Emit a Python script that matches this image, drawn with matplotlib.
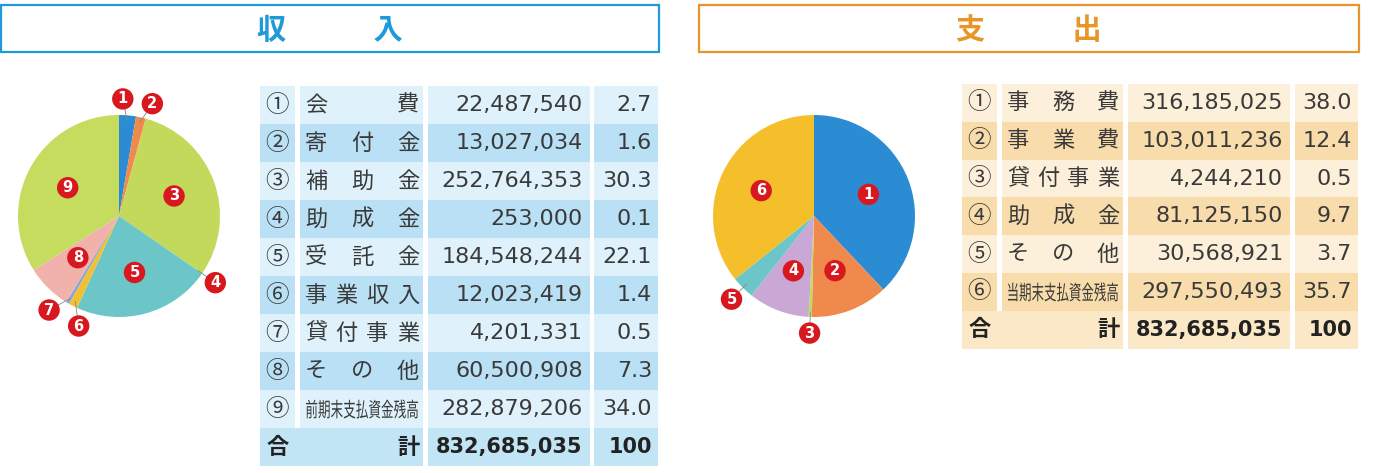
import numpy as np
import matplotlib
matplotlib.use('Agg')
import matplotlib.pyplot as plt
from matplotlib.patches import Rectangle, PathPatch
from matplotlib.textpath import TextPath
from matplotlib.font_manager import FontProperties
from matplotlib.transforms import Affine2D

plt.rcParams['font.family'] = ['Noto Sans CJK JP', 'DejaVu Sans']

# ---- data ----
in_labels = ['会費', '寄付金', '補助金', '助成金', '受託金', '事業収入', '貸付事業', 'その他', '前期末支払資金残高']
in_values = [22487540, 13027034, 252764353, 253000, 184548244, 12023419, 4201331, 60500908, 282879206]
in_pcts = [2.7, 1.6, 30.3, 0.1, 22.1, 1.4, 0.5, 7.3, 34.0]
in_total = 832685035

out_labels = ['事務費', '事業費', '貸付事業', '助成金', 'その他', '当期末支払資金残高']
out_values = [316185025, 103011236, 4244210, 81125150, 30568921, 297550493]
out_pcts = [38.0, 12.4, 0.5, 9.7, 3.7, 35.7]
out_total = 832685035

in_colors = ['#2b8bd3', '#ef8a4c', '#c3d95b', '#8dc7a0', '#6cc5c6', '#f2c032', '#7fa7e0', '#f1b2ab', '#c6dc5f']
out_colors = ['#2b8bd3', '#ef8a4c', '#c3d95b', '#c9a8d6', '#6cc5c6', '#f5bf2c']

circled = '①②③④⑤⑥⑦⑧⑨'
W, H = 1383, 473
TXT = '#3a3a3a'
NUM_FONT = 'DejaVu Sans'

fig = plt.figure(figsize=(W / 100, H / 100), dpi=100)
ax = fig.add_axes([0, 0, 1, 1])
ax.set_xlim(0, W)
ax.set_ylim(H, 0)
ax.axis('off')


# title boxes
def title_box(x0, x1, y0, y1, text, color):
    ax.add_patch(Rectangle((x0, y0), x1 - x0, y1 - y0, fill=False, ec=color, lw=1.6))
    ax.text((x0 + x1) / 2, (y0 + y1) / 2 + 1, text, color=color, fontsize=21,
            fontweight='bold', ha='center', va='center')

title_box(1, 659, 5, 52, '収　　　入', '#1e9ad8')
title_box(699, 1359, 5, 52, '支　　　出', '#e8962a')


# 長いラベルは横に詰めて描く
def squeezed_text(text, xl, xr, yc, height):
    tp = TextPath((0, 0), text, size=20, prop=FontProperties(family='Noto Sans CJK JP'))
    bb = tp.get_extents()
    sx = (xr - xl) / bb.width
    sy = height / bb.height
    tr = Affine2D().translate(-bb.x0, -bb.y0).scale(sx, -sy).translate(xl, yc + height / 2)
    ax.add_patch(PathPatch(tr.transform_path(tp), fc=TXT, ec='none', lw=0))


def spread_label(text, xl, xr, y, fs):
    if len(text) > 4:
        squeezed_text(text, xl - 10, xr + 10, y, 19)
        return
    xs = np.linspace(xl, xr, len(text))
    for ch, x in zip(text, xs):
        ax.text(x, y, ch, fontsize=fs, ha='center', va='center', color=TXT)


def draw_table(cols, top, rh, labels, values, pcts, total, c_odd, c_even, c_tot):
    n = len(labels)
    for i in range(n + 1):
        y0 = top + i * rh
        yc = y0 + rh / 2
        if i == n:
            color = c_tot
            spans = [(cols[0][0], cols[1][1]), cols[2], cols[3]]
        else:
            color = c_odd if i % 2 == 0 else c_even
            spans = cols
        for a, b in spans:
            ax.add_patch(Rectangle((a, y0), b - a, rh, fc=color, ec='none'))
        if i < n:
            ax.text((cols[0][0] + cols[0][1]) / 2, yc, circled[i], fontsize=17, ha='center', va='center', color=TXT)
            spread_label(labels[i], cols[1][0] + 16, cols[1][1] - 15, yc, 16)
            ax.text(cols[2][1] - 7, yc, f'{values[i]:,}', fontsize=16, ha='right', va='center',
                    color=TXT, family=NUM_FONT)
            ax.text(cols[3][1] - 6, yc, f'{pcts[i]:.1f}', fontsize=16, ha='right', va='center',
                    color=TXT, family=NUM_FONT)
        else:
            ax.text(cols[0][0] + 18, yc, '合', fontsize=16, ha='center', va='center', color='#222222', fontweight='bold')
            ax.text(cols[1][1] - 15, yc, '計', fontsize=16, ha='center', va='center', color='#222222', fontweight='bold')
            ax.text(cols[2][1] - 8, yc, f'{total:,}', fontsize=15, ha='right', va='center', color='#222222',
                    fontweight='bold', family=NUM_FONT)
            ax.text(cols[3][1] - 6, yc, '100', fontsize=15, ha='right', va='center', color='#222222',
                    fontweight='bold', family=NUM_FONT)


draw_table([(260, 295), (300, 423), (428, 590), (594, 658)], 86, 38,
           in_labels, in_values, in_pcts, in_total, '#dff2fb', '#b9e0f4', '#c2e5f6')
draw_table([(962, 997), (1002, 1123), (1128, 1290), (1295, 1358)], 84, 37.8,
           out_labels, out_values, out_pcts, out_total, '#fdf0da', '#f8dcab', '#fbe8c6')


def draw_pie(cx, cy, r, values, pcts, colors, nudge):
    span = 1.3
    pax = fig.add_axes([(cx - r * span) / W, 1 - (cy + r * span) / H, 2 * r * span / W, 2 * r * span / H])
    wedges, _ = pax.pie(values, colors=colors, startangle=90, counterclock=False,
                        wedgeprops=dict(linewidth=0))
    pax.set_xlim(-span, span)
    pax.set_ylim(-span, span)
    pax.axis('off')
    for i, w in enumerate(wedges):
        mid = np.deg2rad((w.theta1 + w.theta2) / 2)
        if pcts[i] < 4:
            ang = mid + np.deg2rad(nudge.get(i, 0))
            lx, ly = 1.16 * np.cos(ang), 1.16 * np.sin(ang)
            pax.plot([0.95 * np.cos(mid), lx], [0.95 * np.sin(mid), ly], color='#888888', lw=0.6, zorder=3)
        else:
            lx, ly = 0.58 * np.cos(mid), 0.58 * np.sin(mid)
        pax.text(lx, ly, str(i + 1), color='white', fontsize=10.5, fontweight='bold', ha='center', va='center',
                 family='DejaVu Sans', zorder=4,
                 bbox=dict(boxstyle='circle,pad=0.22', fc='#d7191f', ec='none'))


draw_pie(119, 216, 101, in_values, in_pcts, in_colors, {0: 3, 1: -4, 5: 7, 6: -6})
draw_pie(814, 216, 101, out_values, out_pcts, out_colors, {})

fig.savefig('out.png', dpi=100)
